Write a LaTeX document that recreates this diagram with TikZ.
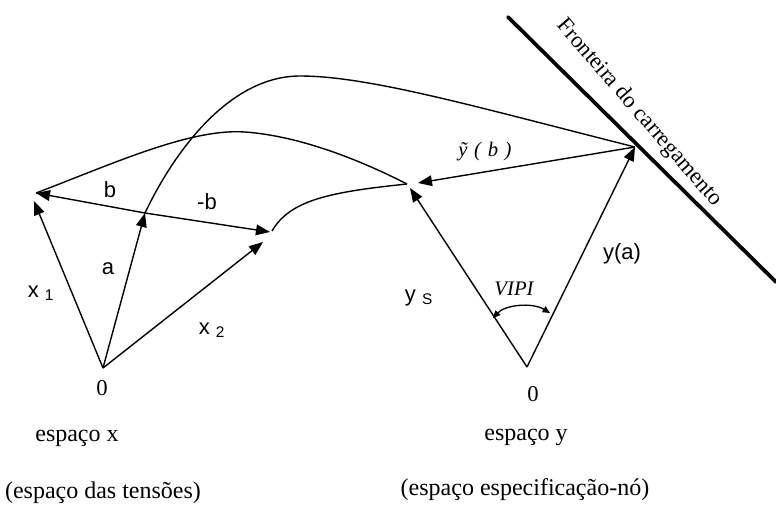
\documentclass[tikz,border=0pt]{standalone}
\usepackage{fontspec}
\setmainfont{Liberation Serif}
\setsansfont{Liberation Sans}
\usetikzlibrary{arrows.meta}
\begin{document}
\begin{tikzpicture}[x=0.75pt,y=-0.75pt,
  vec/.style={line width=1.05pt,-{Triangle[length=10.5pt,width=8pt]}},
  crv/.style={line width=1.05pt},
  bound/.style={line width=2.8pt,line cap=round},
  arcarrow/.style={line width=1pt,{Triangle[length=5.5pt,width=5pt]}-{Triangle[length=5.5pt,width=5pt]}},
  sanslbl/.style={font=\fontsize{16.5}{18}\sffamily,inner sep=0pt},
  seriflbl/.style={font=\fontsize{17}{20}\selectfont,inner sep=0pt},
  biglbl/.style={font=\fontsize{18}{21}\selectfont,inner sep=0pt},
  itlbl/.style={font=\fontsize{15.5}{18}\itshape,inner sep=0pt}]
\useasboundingbox (0,0) rectangle (776,511);
% points
\coordinate (O1) at (103,368);
\coordinate (X1) at (34,201);
\coordinate (A) at (145,213);
\coordinate (X2) at (263,242);
\coordinate (BL) at (36,193);
\coordinate (BR) at (270,232);
\coordinate (O2) at (527,367);
\coordinate (YS) at (410,188);
\coordinate (YA) at (635,147);
\coordinate (YB) at (418,183);
\coordinate (F1) at (508,17);
\coordinate (F2) at (776,282);
\coordinate (CE) at (407,184);
\coordinate (C3) at (272,231);
\coordinate (V1) at (493,318);
\coordinate (V2) at (550,313);
% boundary
\draw[bound] (F1) -- (F2);
% curves
\draw[crv] (A) .. controls (175,150) and (230,76) .. (300,76) .. controls (370,76) and (480,108) .. (YA);
\draw[crv] (BL) .. controls (110,165) and (190,128) .. (245,132) .. controls (300,136) and (360,160) .. (CE);
\draw[crv] (C3) .. controls (290,200) and (330,192) .. (CE);
% vectors, x space
\draw[vec] (O1) -- (X1);
\draw[vec] (O1) -- (A);
\draw[vec] (O1) -- (X2);
\draw[vec] (A) -- (BL);
\draw[vec] (A) -- (BR);
% vectors, y space
\draw[vec] (O2) -- (YS);
\draw[vec] (O2) -- (YA);
\draw[vec] (YA) -- (YB);
\draw[arcarrow] (V1) .. controls (505,305) and (532,302) .. (V2);
% labels
\node[sanslbl] (lx1) at (41,293) {x \textsubscript{1}};
\node[sanslbl] (la) at (108,269) {a};
\node[sanslbl] (lx2) at (212,330) {x \textsubscript{2}};
\node[sanslbl] (lb) at (110,190) {b};
\node[sanslbl] (lmb) at (207,202) {-b};
\node[sanslbl] (lys) at (419,298) {y \textsubscript{S}};
\node[sanslbl] (lya) at (622,254) {y(a)};
\node[itlbl] (lyb) at (485,152) {ỹ\hspace{5pt}(\hspace{5pt}b\hspace{5pt})};
\node[itlbl] (lvipi) at (514,289) {VIPI};
\node[seriflbl] (z1) at (102,388) {0};
\node[seriflbl] (z2) at (533,394) {0};
\node[biglbl] (ex) at (77,438) {espaço x};
\node[biglbl] (ey) at (526,437) {espaço y};
\node[biglbl] (et) at (103,493) {(espaço das tensões)};
\node[biglbl] (en) at (525,490) {(espaço especificação-nó)};
\node[seriflbl,rotate=-49] (fr) at (639,113) {Fronteira do carregamento};
\end{tikzpicture}
\end{document}
